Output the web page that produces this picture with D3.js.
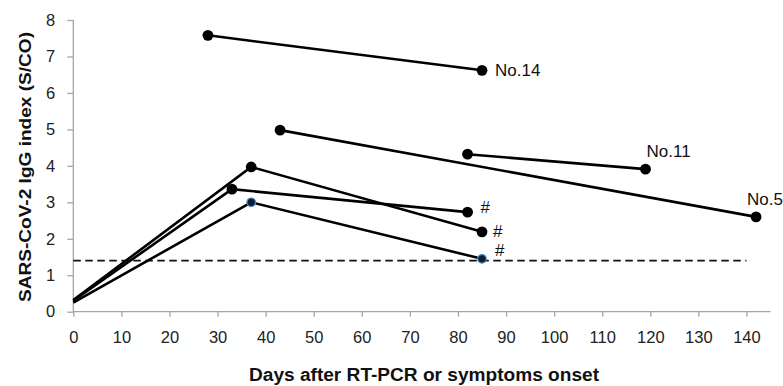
<!DOCTYPE html>
<html>
<head>
<meta charset="utf-8">
<script src="https://cdn.jsdelivr.net/npm/d3@7"></script>
<style>
  body { margin: 0; background: #fff; }
  svg { display: block; font-family: 'Liberation Sans', Arial, sans-serif; }
</style>
</head>
<body>
<svg id="chart" width="783" height="386"></svg>
<script>
// days / values per patient line
const lineDays = [
  [28, 85],       // No.14
  [43, 142],      // No.5
  [82, 119],      // No.11
  [0, 37, 85],    // #
  [0, 33, 82],    // #
  [0, 37, 85]     // # (blue markers)
]
const lineValues = [
  [7.58, 6.62],
  [4.98, 2.6],
  [4.32, 3.91],
  [0.32, 3.97, 2.19],
  [0.3, 3.36, 2.73],
  [0.25, 3.0, 1.45]
]
// which points get a marker (the day-0 start has none)
const lineMarked = [
  [true, true],
  [true, true],
  [true, true],
  [false, true, true],
  [false, true, true],
  [false, true, true]
]
const lineBlue = [false, false, false, false, false, true]

const labels = [
  { text: 'No.14', day: 85, value: 6.62, dx: 13, dy: 6 },
  { text: 'No.11', day: 119, value: 3.91, dx: 1, dy: -12 },
  { text: 'No.5', day: 142, value: 2.6, dx: -9, dy: -12 },
  { text: '#', day: 82, value: 2.73, dx: 13, dy: 1 },
  { text: '#', day: 85, value: 2.19, dx: 11, dy: 5 },
  { text: '#', day: 85, value: 1.45, dx: 13, dy: -3 }
]

const cutoff = 1.4
const xTicks = d3.range(0, 141, 10)
const yTicks = d3.range(0, 9, 1)

const svg = d3.select('#chart')
const x = d3.scaleLinear().domain([0, 145]).range([73.3, 770.5])
const y = d3.scaleLinear().domain([0, 8]).range([311.7, 20])

// axes
const yAxis = svg.append('g')
  .attr('transform', `translate(${x(0)},0)`)
  .call(d3.axisLeft(y).tickValues(yTicks).tickSize(6).tickPadding(12).tickFormat(d3.format('d')))
const xAxis = svg.append('g')
  .attr('transform', `translate(0,${y(0)})`)
  .call(d3.axisBottom(x).tickValues(xTicks).tickSize(5).tickPadding(15).tickFormat(d3.format('d')))

;[xAxis, yAxis].forEach(a => {
  a.select('.domain').attr('stroke', '#a6a6a6').attr('stroke-width', 1.3)
  a.selectAll('.tick line').attr('stroke', '#a6a6a6').attr('stroke-width', 1.3)
  a.selectAll('.tick text').attr('fill', '#222').attr('font-size', 16.5)
    .attr('font-family', "'Liberation Sans', Arial, sans-serif")
})
// extend x domain line a little past the last tick
xAxis.select('.domain').attr('d', `M${x(0)},0H${x(145)}`)
yAxis.select('.domain').attr('d', `M0,${y(8)}V${y(0)}`)

// cutoff dashed line
svg.append('line')
  .attr('x1', x(0)).attr('x2', x(140))
  .attr('y1', y(cutoff)).attr('y2', y(cutoff))
  .attr('stroke', '#111').attr('stroke-width', 1.6)
  .attr('stroke-dasharray', '7.5,4.5')

const line = d3.line().x(d => x(d[0])).y(d => y(d[1]))

lineDays.forEach((days, i) => {
  const pts = days.map((d, j) => [d, lineValues[i][j]])
  svg.append('path')
    .attr('d', line(pts))
    .attr('fill', 'none')
    .attr('stroke', '#000')
    .attr('stroke-width', 2.6)
  svg.append('g')
    .selectAll('circle')
    .data(pts.filter((p, j) => lineMarked[i][j]))
    .enter()
    .append('circle')
    .attr('cx', d => x(d[0]))
    .attr('cy', d => y(d[1]))
    .attr('r', lineBlue[i] ? 4.3 : 5.4)
    .attr('fill', lineBlue[i] ? '#0f1f33' : '#000')
    .attr('stroke', lineBlue[i] ? '#4f8fcf' : 'none')
    .attr('stroke-width', 1.2)
})

svg.append('g')
  .selectAll('text')
  .data(labels)
  .enter()
  .append('text')
  .attr('x', d => x(d.day) + d.dx)
  .attr('y', d => y(d.value) + d.dy)
  .attr('font-size', 17)
  .attr('fill', '#111')
  .text(d => d.text)

// axis titles
svg.append('text')
  .attr('x', 424)
  .attr('y', 381)
  .attr('text-anchor', 'middle')
  .attr('font-size', 18)
  .attr('font-weight', 'bold')
  .attr('textLength', 350)
  .attr('lengthAdjust', 'spacingAndGlyphs')
  .attr('fill', '#111')
  .text('Days after RT-PCR or symptoms onset')

svg.append('text')
  .attr('transform', 'translate(31,167) rotate(-90)')
  .attr('text-anchor', 'middle')
  .attr('font-size', 17)
  .attr('font-weight', 'bold')
  .attr('textLength', 270)
  .attr('lengthAdjust', 'spacingAndGlyphs')
  .attr('fill', '#111')
  .text('SARS-CoV-2 IgG index (S/CO)')
</script>
</body>
</html>
